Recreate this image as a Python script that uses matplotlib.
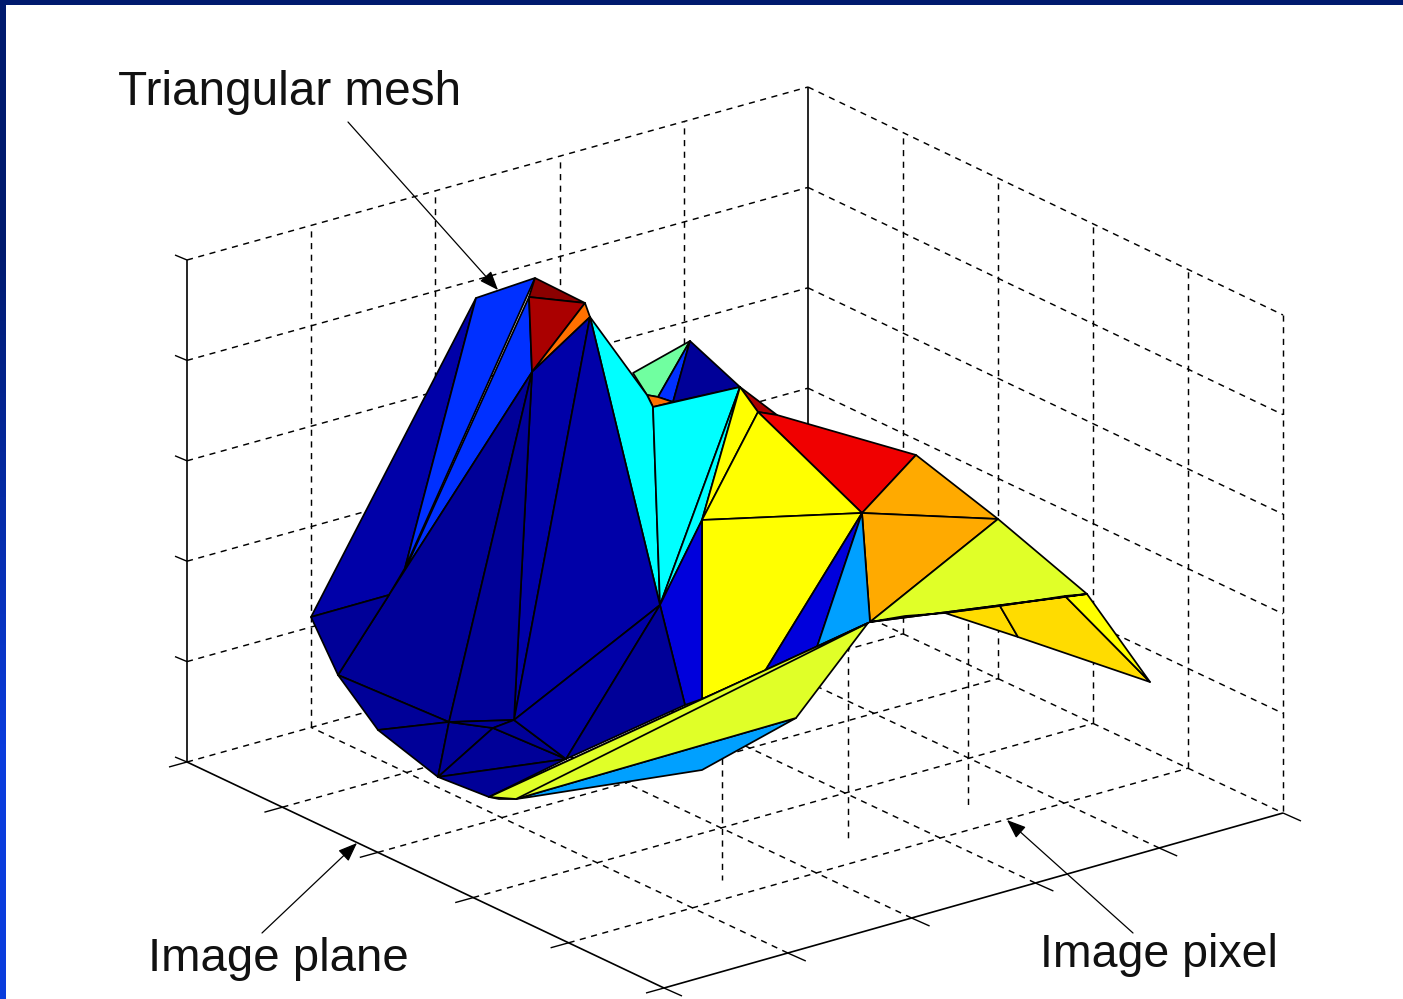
import matplotlib
matplotlib.use("Agg")
import matplotlib.pyplot as plt
import numpy as np
from matplotlib.patches import Polygon

# box corners as projected on the page
LEFT_TOP = (187, 260)
LEFT_BOT = (187, 762)
BACK_TOP = (808, 87)
BACK_BOT = (808, 589)
RIGHT_TOP = (1283, 315)
RIGHT_BOT = (1283, 813)
FRONT = (664, 988)
DIVS = [0.2, 0.4, 0.6, 0.8]

# loose vertical grid pieces seen under the mesh: x, y start, y end
extra_x = [722, 848, 968]
extra_start = [700, 610, 600]
extra_end = [880, 840, 805]

NAVY = "#000098"
DARK = "#0000A8"
MID = "#0000DC"
BRIGHT = "#0030FF"
SKY = "#00A0FF"
CYAN = "#00FFFF"
LIME = "#E0FF28"
YELLOW = "#FFFF00"
GOLD = "#FFDC00"
ORANGE = "#FFAA00"
DEEP_ORANGE = "#FF7000"
RED = "#F00000"
MAROON = "#AA0000"
DARK_MAROON = "#8B0000"
MINT = "#70FFA0"

# painted back to front
mesh_faces = [
    [(633, 373), (690, 341), (658, 397), (647, 395)],
    [(690, 341), (658, 397), (673, 402)],
    [(690, 341), (673, 402), (740, 387)],
    [(647, 395), (658, 397), (673, 402), (653, 407)],
    [(740, 387), (777, 415), (758, 412)],
    [(777, 415), (916, 455), (862, 513), (758, 412)],
    [(590, 317), (647, 395), (653, 407), (660, 605)],
    [(653, 407), (740, 387), (660, 605)],
    [(740, 387), (702, 520), (660, 605)],
    [(740, 387), (758, 412), (702, 520)],
    [(758, 412), (862, 513), (702, 520)],
    [(702, 520), (862, 513), (765, 671), (702, 699)],
    [(660, 605), (702, 520), (702, 699), (685, 705)],
    [(916, 455), (998, 519), (862, 513)],
    [(862, 513), (998, 519), (870, 622)],
    [(862, 513), (765, 671), (817, 647)],
    [(862, 513), (817, 647), (870, 622)],
    [(998, 519), (1087, 594), (870, 622)],
    [(945, 613), (1000, 606), (1018, 637)],
    [(1000, 606), (1065, 596), (1150, 682), (1018, 637)],
    [(1065, 596), (1087, 594), (1150, 682)],
    [(870, 622), (905, 616), (945, 613), (1087, 594)],
    [(476, 298), (311, 617), (389, 595), (405, 568)],
    [(476, 298), (535, 278), (405, 568)],
    [(529, 297), (532, 372), (405, 570)],
    [(535, 278), (585, 303), (529, 297)],
    [(529, 297), (585, 303), (532, 372)],
    [(585, 303), (590, 317), (532, 372)],
    [(532, 372), (590, 317), (514, 720)],
    [(590, 317), (660, 605), (514, 720)],
    [(405, 570), (532, 372), (449, 722), (338, 675), (389, 595)],
    [(532, 372), (514, 720), (449, 722)],
    [(311, 617), (389, 595), (338, 675)],
    [(338, 675), (449, 722), (378, 730)],
    [(378, 730), (449, 722), (438, 777)],
    [(449, 722), (493, 728), (438, 777)],
    [(449, 722), (514, 720), (493, 728)],
    [(493, 728), (566, 759), (438, 777)],
    [(514, 720), (566, 759), (493, 728)],
    [(438, 777), (566, 759), (489, 797)],
    [(514, 720), (660, 605), (566, 759)],
    [(566, 759), (660, 605), (685, 705)],
    [(796, 718), (702, 770), (530, 797), (516, 799)],
    [(868, 623), (796, 718), (516, 799), (499, 799), (489, 797)],
    [(868, 623), (516, 799), (489, 797)],
]
mesh_colors = [
    MINT, BRIGHT, NAVY, DEEP_ORANGE, MAROON, RED, CYAN, CYAN, CYAN, YELLOW,
    YELLOW, YELLOW, MID, ORANGE, ORANGE, MID, SKY, LIME, GOLD, GOLD,
    YELLOW, LIME, DARK, BRIGHT, BRIGHT, DARK_MAROON, MAROON, DEEP_ORANGE, DARK, DARK,
    NAVY, NAVY, NAVY, NAVY, NAVY, NAVY, NAVY, NAVY, NAVY, NAVY,
    DARK, NAVY, SKY, LIME, LIME,
]

labels = ["Triangular mesh", "Image plane", "Image pixel"]
label_x = [118, 148, 1040]
label_y = [105, 971, 967]
label_size = [34.4, 34.1, 33.5]
arrow_from = [(348, 122), (262, 933), (1133, 933)]
arrow_to = [(498, 290), (357, 843), (1007, 820)]


def along(a, b, t):
    return a[0] + (b[0] - a[0]) * t, a[1] + (b[1] - a[1]) * t


def seg(ax, a, b, **kw):
    ax.plot([a[0], b[0]], [a[1], b[1]], color="black", solid_capstyle="butt", **kw)


def draw_grid(ax):
    dash = dict(lw=1.05, ls=(0, (4.2, 3.8)), zorder=1)
    seg(ax, LEFT_TOP, BACK_TOP, **dash)
    seg(ax, LEFT_BOT, BACK_BOT, **dash)
    seg(ax, BACK_TOP, RIGHT_TOP, **dash)
    seg(ax, RIGHT_TOP, RIGHT_BOT, **dash)
    seg(ax, BACK_BOT, RIGHT_BOT, **dash)
    for t in DIVS:
        # height rings on both walls
        a = along(LEFT_BOT, LEFT_TOP, t)
        b = along(BACK_BOT, BACK_TOP, t)
        c = along(RIGHT_BOT, RIGHT_TOP, t)
        seg(ax, a, b, **dash)
        seg(ax, b, c, **dash)
        # verticals on the walls
        seg(ax, along(LEFT_BOT, BACK_BOT, t), along(LEFT_TOP, BACK_TOP, t), **dash)
        seg(ax, along(BACK_BOT, RIGHT_BOT, t), along(BACK_TOP, RIGHT_TOP, t), **dash)
        # floor
        seg(ax, along(LEFT_BOT, FRONT, t), along(BACK_BOT, RIGHT_BOT, t), **dash)
        seg(ax, along(FRONT, RIGHT_BOT, t), along(LEFT_BOT, BACK_BOT, t), **dash)
    for x, y0, y1 in zip(extra_x, extra_start, extra_end):
        seg(ax, (x, y0), (x, y1), **dash)


def draw_axes(ax):
    solid = dict(lw=1.2, zorder=2)
    seg(ax, LEFT_TOP, LEFT_BOT, **solid)
    seg(ax, LEFT_BOT, FRONT, **solid)
    seg(ax, FRONT, RIGHT_BOT, **solid)
    seg(ax, BACK_TOP, BACK_BOT, **solid)
    tick = dict(lw=1.0, zorder=2)
    for t in [0.0, 0.2, 0.4, 0.6, 0.8, 1.0]:
        x, y = along(LEFT_BOT, LEFT_TOP, t)
        seg(ax, (x, y), (x - 12, y - 5), **tick)
        x, y = along(LEFT_BOT, FRONT, t)
        seg(ax, (x, y), (x - 18, y + 5), **tick)
        x, y = along(FRONT, RIGHT_BOT, t)
        seg(ax, (x, y), (x + 18, y + 8), **tick)


def draw_page(ax):
    # slide background showing along the top and left edges
    ax.imshow(np.array([[0.0], [1.0]]), extent=(0, 6, 999, 0), aspect="auto",
              cmap=matplotlib.colors.LinearSegmentedColormap.from_list("edge", ["#001A6E", "#0A3CDC"]),
              zorder=5, interpolation="bilinear")
    ax.axhspan(0, 5, color="#001A6E", lw=0, zorder=5)


fig = plt.figure(figsize=(14.03, 9.99), dpi=100)
ax = fig.add_axes([0, 0, 1, 1])
draw_page(ax)
draw_grid(ax)
draw_axes(ax)
for pts, col in zip(mesh_faces, mesh_colors):
    ax.add_patch(Polygon(pts, closed=True, facecolor=col, edgecolor="black", lw=1.25, joinstyle="round", zorder=3))
for text, x, y, size in zip(labels, label_x, label_y, label_size):
    ax.text(x, y, text, family="Liberation Sans", fontsize=size, color="#111111", ha="left", va="baseline", zorder=4)
for start, end in zip(arrow_from, arrow_to):
    ax.annotate("", xy=end, xytext=start, zorder=4,
                arrowprops=dict(arrowstyle="-|>,head_length=0.9,head_width=0.35", color="black", lw=0.9,
                                mutation_scale=13, shrinkA=0, shrinkB=0))
ax.set_xlim(0, 1403)
ax.set_ylim(999, 0)
ax.axis("off")
fig.savefig("out.png", dpi=100)
